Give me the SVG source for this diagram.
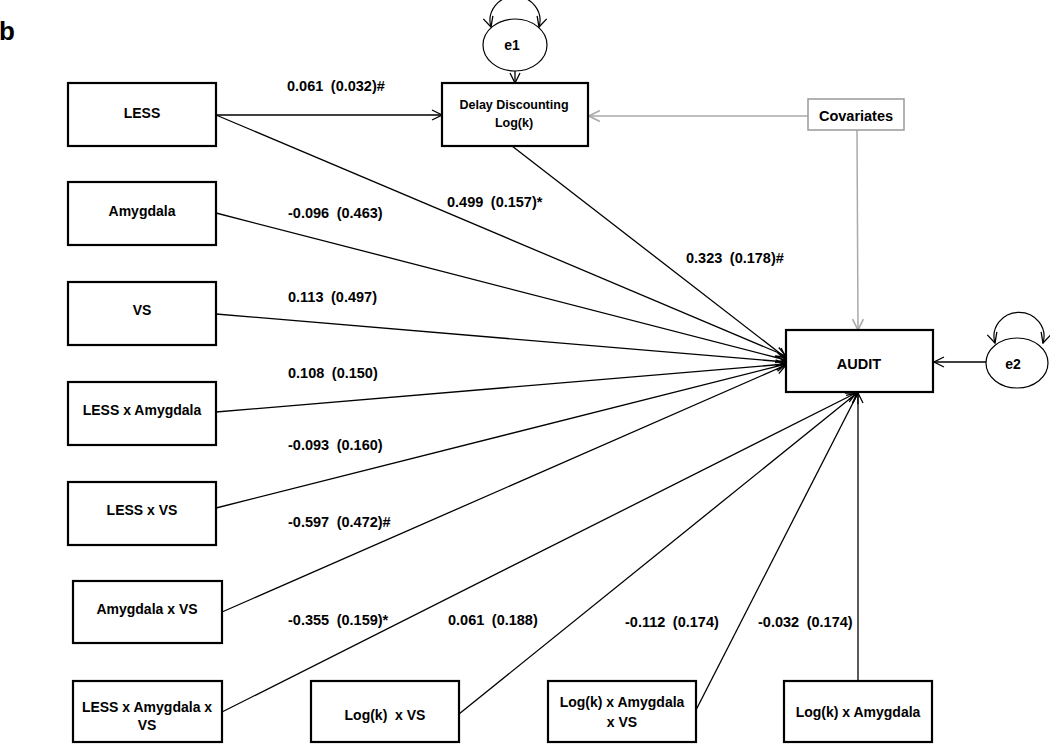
<svg xmlns="http://www.w3.org/2000/svg" width="1050" height="744" viewBox="0 0 1050 744">
<style>
.box{fill:#fff;stroke:#000;stroke-width:2.2}
.gbox{fill:#fff;stroke:#999;stroke-width:1.5}
.ell{fill:#fff;stroke:#000;stroke-width:1.2}
.t{font-family:"Liberation Sans",Arial,sans-serif;font-weight:bold;fill:#000;text-anchor:middle;dominant-baseline:central}
.n{font-size:14px}
.lbl{font-family:"Liberation Sans",Arial,sans-serif;font-weight:bold;font-size:14.5px;fill:#000;word-spacing:3.5px}
.c{stroke:#000;stroke-width:1.3;fill:none;marker-end:url(#ah)}
.g{stroke:#aaa;stroke-width:1.5;fill:none;marker-end:url(#gh)}
.loop{stroke:#000;stroke-width:1.2;fill:none;marker-start:url(#ah);marker-end:url(#ah)}
</style>
<defs>
<marker id="ah" viewBox="0 0 12 12" refX="11" refY="6" markerWidth="12" markerHeight="12" markerUnits="userSpaceOnUse" orient="auto-start-reverse">
<path d="M1,1 L11,6 L1,11" fill="none" stroke="#000" stroke-width="1.3"/>
</marker>
<marker id="gh" viewBox="0 0 12 12" refX="11" refY="6" markerWidth="13" markerHeight="13" markerUnits="userSpaceOnUse" orient="auto">
<path d="M1,1 L11,6 L1,11" fill="none" stroke="#aaa" stroke-width="1.5"/>
</marker>
</defs>
<rect width="1050" height="744" fill="#fff"/>
<text x="-1" y="40" font-family="Liberation Sans,Arial,sans-serif" font-weight="bold" font-size="26">b</text>

<g id="connectors">
<line class="c" x1="216" y1="115" x2="442" y2="115"/>
<line class="c" x1="216" y1="115" x2="786" y2="356"/>
<line class="c" x1="512" y1="146" x2="786" y2="358"/>
<line class="c" x1="216" y1="213" x2="786" y2="360"/>
<line class="c" x1="216" y1="314" x2="786" y2="362"/>
<line class="c" x1="216" y1="412" x2="786" y2="364"/>
<line class="c" x1="216" y1="508" x2="786" y2="364"/>
<line class="c" x1="222" y1="612" x2="786" y2="365"/>
<line class="c" x1="222" y1="712" x2="856" y2="393"/>
<line class="c" x1="459" y1="714" x2="857" y2="393"/>
<line class="c" x1="696" y1="710" x2="858" y2="393"/>
<line class="c" x1="858" y1="681" x2="858" y2="393"/>
<line class="g" x1="808" y1="116" x2="589" y2="116"/>
<line class="g" x1="857" y1="130" x2="858" y2="330"/>
<line class="c" x1="515" y1="71" x2="515" y2="83"/>
<line class="c" x1="986" y1="362" x2="934" y2="362"/>
<path class="loop" d="M491,27 A25,24 0 1 1 539,27"/>
<path class="loop" d="M995,343 A25,24 0 1 1 1043,343"/>
</g>

<g id="labels">
<text class="lbl" x="287" y="91">0.061 (0.032)#</text>
<text class="lbl" x="447" y="207">0.499 (0.157)*</text>
<text class="lbl" x="288" y="218">-0.096 (0.463)</text>
<text class="lbl" x="686" y="263">0.323 (0.178)#</text>
<text class="lbl" x="288" y="302">0.113 (0.497)</text>
<text class="lbl" x="288" y="378">0.108 (0.150)</text>
<text class="lbl" x="288" y="450">-0.093 (0.160)</text>
<text class="lbl" x="288" y="527">-0.597 (0.472)#</text>
<text class="lbl" x="288" y="625">-0.355 (0.159)*</text>
<text class="lbl" x="448" y="625">0.061 (0.188)</text>
<text class="lbl" x="625" y="627">-0.112 (0.174)</text>
<text class="lbl" x="758" y="627">-0.032 (0.174)</text>
</g>

<g id="e1"><ellipse class="ell" cx="515" cy="45" rx="32" ry="26"/><text class="t n" x="512" y="45">e1</text></g>
<g id="e2"><ellipse class="ell" cx="1017" cy="363" rx="31" ry="25"/><text class="t n" x="1013" y="364">e2</text></g>

<g id="less"><rect class="box" x="68" y="83" width="148" height="63"/><text class="t n" x="142" y="113">LESS</text></g>
<g id="amygdala"><rect class="box" x="68" y="182" width="148" height="63"/><text class="t n" x="142" y="211">Amygdala</text></g>
<g id="vs"><rect class="box" x="68" y="282" width="148" height="63"/><text class="t n" x="142" y="310">VS</text></g>
<g id="less-amygdala"><rect class="box" x="68" y="382" width="148" height="63"/><text class="t n" x="142" y="410">LESS x Amygdala</text></g>
<g id="less-vs"><rect class="box" x="68" y="482" width="148" height="63"/><text class="t n" x="142" y="510">LESS x VS</text></g>
<g id="amygdala-vs"><rect class="box" x="73" y="581" width="149" height="62"/><text class="t n" x="147" y="609">Amygdala x VS</text></g>
<g id="less-amygdala-vs"><rect class="box" x="73" y="681" width="149" height="61"/><text class="t n" x="147" y="707">LESS x Amygdala x</text><text class="t n" x="147" y="725">VS</text></g>
<g id="logk-vs"><rect class="box" x="311" y="681" width="148" height="61"/><text class="t n" x="385" y="715" xml:space="preserve">Log(k)  x VS</text></g>
<g id="logk-amygdala-vs"><rect class="box" x="548" y="681" width="148" height="61"/><text class="t n" x="622" y="702">Log(k) x Amygdala</text><text class="t n" x="622" y="722">x VS</text></g>
<g id="logk-amygdala"><rect class="box" x="784" y="681" width="148" height="61"/><text class="t n" x="858" y="712">Log(k) x Amygdala</text></g>
<g id="delay"><rect class="box" x="442" y="83" width="146" height="63"/><text class="t" font-size="12.5" x="514" y="105">Delay Discounting</text><text class="t" font-size="12.5" x="514" y="123">Log(k)</text></g>
<g id="covariates"><rect class="gbox" x="808" y="99" width="96" height="31"/><text class="t" font-size="14.5" x="856" y="116">Covariates</text></g>
<g id="audit"><rect class="box" x="786" y="330" width="147" height="62"/><text class="t" font-size="14.5" x="859" y="364">AUDIT</text></g>
</svg>
